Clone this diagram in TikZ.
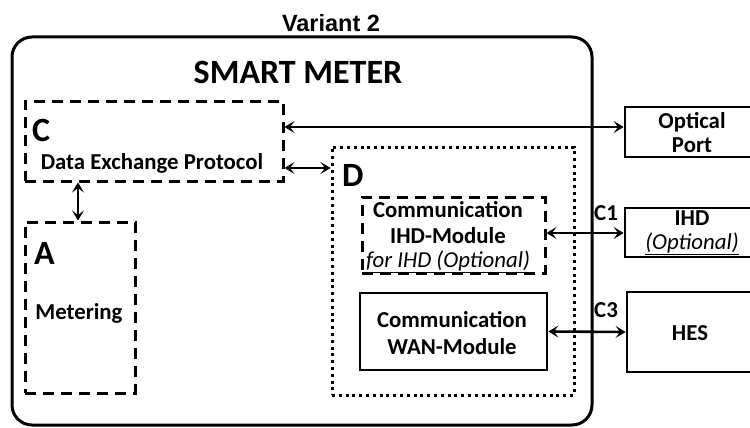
\documentclass[tikz,border=0pt]{standalone}
\usepackage{fontspec}
\setmainfont{Carlito}
\newfontfamily\arialfont{Liberation Sans}
\usetikzlibrary{arrows.meta}
\tikzset{
  dashbox/.style={draw=black, line width=3pt, dash pattern=on 11pt off 7pt, inner sep=0pt},
  dotbox/.style={draw=black, line width=3pt, dash pattern=on 3pt off 3.8pt, inner sep=0pt},
  solidbox/.style={draw=black, line width=2.8pt, inner sep=0pt},
  arr/.style={line width=2.6pt, {Stealth[length=10pt,width=12pt,inset=4.5pt]}-{Stealth[length=10pt,width=12pt,inset=4.5pt]}},
  lab/.style={font=\bfseries\fontsize{22.8}{27}\selectfont, inner sep=0pt},
  biglab/.style={font=\bfseries\fontsize{34}{40}\selectfont, inner sep=0pt},
}
\begin{document}
\begin{tikzpicture}[x=1pt,y=-1pt]
\useasboundingbox (0,0) rectangle (750,428);
% outer
\node[draw=black, line width=3pt, rounded corners=20pt, minimum width=580pt, minimum height=388pt, inner sep=0pt] (sm) at (302,231) {};
\node[font=\arialfont\bfseries\fontsize{23.5}{28}\selectfont, inner sep=0pt] (var) at (331,23) {Variant 2};
\node[biglab] (smt) at (298,72) {SMART METER};
% C
\node[dashbox, minimum width=258pt, minimum height=80pt] (C) at (154,141) {};
\node[biglab, anchor=west] (Cl) at (32,130) {C};
\node[lab] (Ct) at (152,163) {Data Exchange Protocol};
% A
\node[dashbox, minimum width=110pt, minimum height=171pt] (A) at (80,307.5) {};
\node[biglab, anchor=west] (Al) at (34,253) {A};
\node[lab] (At) at (79,313) {Metering};
% D
\node[dotbox, minimum width=242pt, minimum height=248pt] (D) at (453,271) {};
\node[biglab, anchor=west] (Dl) at (342,175) {D};
% IHD module
\node[dashbox, minimum width=183pt, minimum height=76pt] (IM) at (453.5,235) {};
\node[lab, align=center] (IMt) at (448,237) {Communication\\[-1pt]IHD-Module\\[-3pt]{\mdseries\itshape\underline{for IHD (Optional)}}};
% WAN module
\node[solidbox, minimum width=187pt, minimum height=77pt] (W) at (453.5,331.5) {};
\node[lab, align=center] (Wt) at (452,333) {Communication\\WAN-Module};
% external
\node[solidbox, minimum width=130pt, minimum height=50pt] (O) at (690,132) {};
\node[lab, align=center] (Ot) at (692,133) {Optical\\[-3pt]Port};
\node[solidbox, minimum width=130pt, minimum height=49pt] (I) at (690,232.5) {};
\node[lab, align=center] (It) at (692,233) {IHD\\[-3pt]{\mdseries\itshape\underline{(Optional)}}};
\node[solidbox, minimum width=128pt, minimum height=80pt] (H) at (691,332) {};
\node[lab] (Ht) at (690,333) {HES};
% connectors
\coordinate (op) at (400,127);
\coordinate (cd) at (300,168);
\coordinate (ac) at (78,200);
\coordinate (ih) at (600,233);
\draw[arr] (C.east |- op) -- (O.west |- op);
\draw[arr] (C.east |- cd) -- (D.west |- cd);
\draw[arr] (C.south -| ac) -- (A.north -| ac);
\draw[arr] (IM.east |- ih) -- (I.west |- ih);
\draw[arr] (W.east) -- (H.west);
\node[lab] (c1) at (606,213) {C1};
\node[lab] (c3) at (606,310) {C3};
\end{tikzpicture}
\end{document}
